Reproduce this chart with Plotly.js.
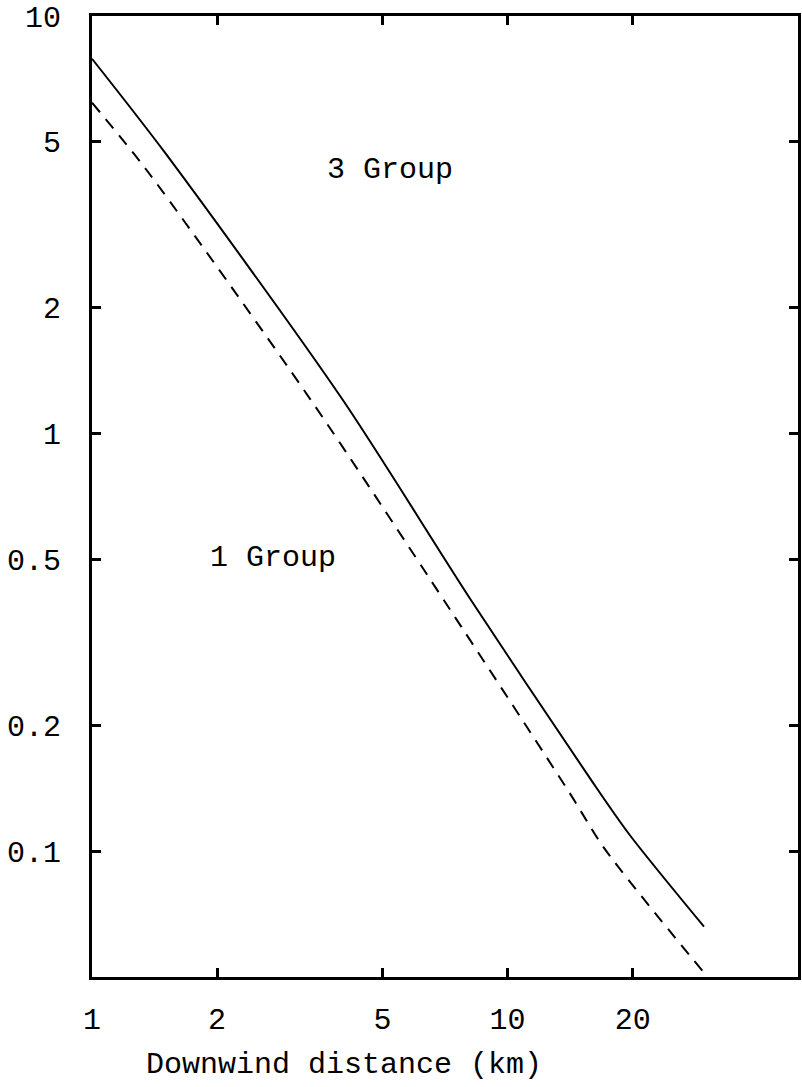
<!DOCTYPE html>
<html>
<head>
<meta charset="utf-8">
<script src="https://cdn.plot.ly/plotly-3.0.1.min.js"></script>
<style>
  html, body { margin: 0; padding: 0; background: #fff; }
  #chart { width: 802px; height: 1087px; }
</style>
</head>
<body>
<div id="chart"></div>
<script>
// Downwind distance (km) and values for the two curves
const solidX = [1, 1.5, 4.0, 8.2, 15.9, 19.6, 29.7];
const solidY = [7.9, 4.7, 1.21, 0.397, 0.148, 0.11, 0.066];
const dashedX = [1, 1.35, 3.35, 7.1, 14.1, 17.1, 29.7];
const dashedY = [6.2, 4.29, 1.21, 0.393, 0.138, 0.1016, 0.0512];

const xTickVals = [1, 2, 5, 10, 20];
const xTickText = ['1', '2', '5', '10', '20'];
const yTickVals = [0.1, 0.2, 0.5, 1, 2, 5, 10];
const yTickText = ['0.1', '0.2', '0.5', '1', '2', '5', '10'];

const labelText = ['3 Group', '1 Group'];
const labelX = [5.2, 2.73];
const labelY = [4.27, 0.503];

const xTitle = 'Downwind distance (km)';

const FONT = '"Liberation Mono", "Courier New", monospace';

const traces = [
  { x: solidX, y: solidY, type: 'scatter', mode: 'lines',
    line: { color: '#000', width: 2, shape: 'spline', smoothing: 0.8 }, name: '3 Group' },
  { x: dashedX, y: dashedY, type: 'scatter', mode: 'lines',
    line: { color: '#000', width: 2, dash: '12px,9px', shape: 'spline', smoothing: 0.8 }, name: '1 Group' }
];

const annotations = labelText.map((t, i) => ({
  text: t, x: Math.log10(labelX[i]), y: Math.log10(labelY[i]),
  xref: 'x', yref: 'y', showarrow: false,
  xanchor: 'center', yanchor: 'middle',
  font: { family: FONT, size: 30, color: '#000' }
}));
annotations.push({
  text: xTitle, xref: 'paper', yref: 'paper', x: 0.357, y: -0.0915,
  xanchor: 'center', yanchor: 'middle', showarrow: false,
  font: { family: FONT, size: 30, color: '#000' }
});

const layout = {
  width: 802, height: 1087,
  margin: { l: 92, r: 4, t: 16, b: 110 },
  paper_bgcolor: '#fff', plot_bgcolor: '#fff',
  showlegend: false,
  font: { family: FONT, size: 30, color: '#000' },
  xaxis: {
    type: 'log', range: [0, Math.log10(50)],
    tickmode: 'array', tickvals: xTickVals, ticktext: xTickText,
    ticks: 'inside', ticklen: 9, tickwidth: 3, tickcolor: '#000',
    showline: true, linecolor: '#000', linewidth: 3, mirror: 'ticks',
    showgrid: false, zeroline: false,
    ticklabelstandoff: 13,
    tickfont: { family: FONT, size: 30, color: '#000' }
  },
  yaxis: {
    type: 'log', range: [Math.log10(0.05), 1],
    tickmode: 'array', tickvals: yTickVals, ticktext: yTickText,
    ticks: 'inside', ticklen: 9, tickwidth: 3, tickcolor: '#000',
    showline: true, linecolor: '#000', linewidth: 3, mirror: 'ticks',
    showgrid: false, zeroline: false,
    ticklabelstandoff: 22,
    tickfont: { family: FONT, size: 30, color: '#000' }
  },
  annotations: annotations
};

Plotly.newPlot('chart', traces, layout, { displayModeBar: false, staticPlot: true });
</script>
</body>
</html>
